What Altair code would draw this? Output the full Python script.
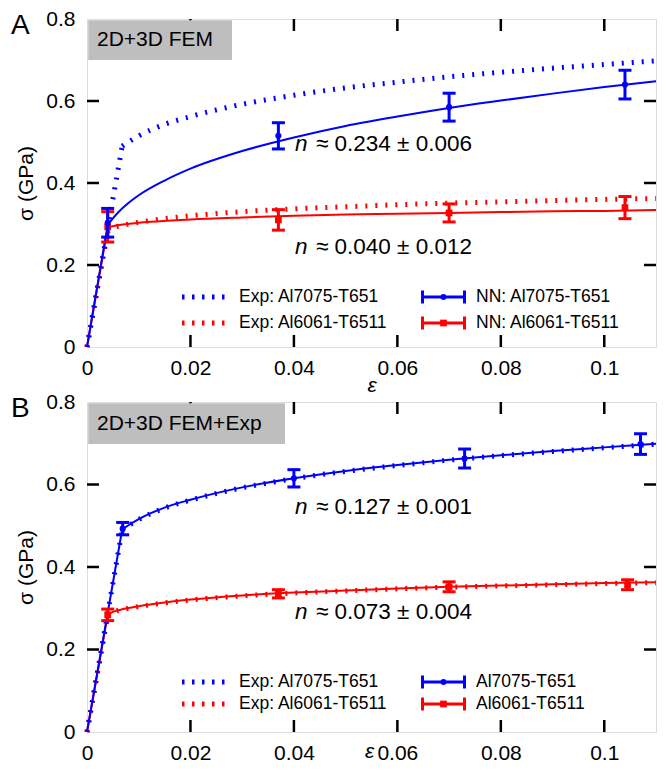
import altair as alt
import pandas as pd

FONT = "Liberation Sans"
BLUE = "#0000ff"
RED = "#ff0000"
GRAY = "#bebebe"

W = 569
H_A = 328
H_B = 330

# ---------------- data ----------------
# experimental curves (same in both panels)
exp7075_eps = [0, 0.0068, 0.0075, 0.01, 0.015, 0.02, 0.03, 0.04, 0.05, 0.06, 0.07, 0.08, 0.09, 0.1, 0.11]
exp7075_sig = [0, 0.490, 0.496, 0.515, 0.543, 0.562, 0.592, 0.614, 0.632, 0.646, 0.659, 0.670, 0.680, 0.689, 0.698]
exp6061_eps = [0, 0.004, 0.005, 0.007, 0.01, 0.015, 0.02, 0.03, 0.04, 0.05, 0.06, 0.07, 0.08, 0.09, 0.1, 0.11]
exp6061_sig = [0, 0.282, 0.290, 0.297, 0.304, 0.313, 0.320, 0.330, 0.337, 0.342, 0.347, 0.351, 0.354, 0.357, 0.360, 0.362]

# panel A: NN (2D+3D FEM)
a_nn7075_eps = [0, 0.004, 0.006, 0.008, 0.01, 0.015, 0.02, 0.03, 0.04, 0.05, 0.06, 0.07, 0.08, 0.09, 0.1, 0.11]
a_nn7075_sig = [0, 0.298, 0.328, 0.351, 0.370, 0.406, 0.435, 0.478, 0.511, 0.539, 0.562, 0.583, 0.601, 0.618, 0.634, 0.648]
a_nn6061_eps = [0, 0.004, 0.006, 0.01, 0.02, 0.03, 0.04, 0.05, 0.06, 0.07, 0.08, 0.09, 0.1, 0.11]
a_nn6061_sig = [0, 0.292, 0.297, 0.303, 0.311, 0.316, 0.320, 0.323, 0.325, 0.327, 0.329, 0.331, 0.332, 0.334]
a_pt7075_eps = [0.004, 0.037, 0.070, 0.104]
a_pt7075_sig = [0.303, 0.515, 0.585, 0.640]
a_pt7075_err = [0.035, 0.032, 0.034, 0.035]
a_pt6061_eps = [0.004, 0.037, 0.070, 0.104]
a_pt6061_sig = [0.293, 0.310, 0.327, 0.340]
a_pt6061_err = [0.037, 0.025, 0.022, 0.027]

# panel B: NN (2D+3D FEM+Exp)
b_nn7075_eps = [0, 0.0068, 0.0075, 0.01, 0.015, 0.02, 0.03, 0.04, 0.05, 0.06, 0.07, 0.08, 0.09, 0.1, 0.11]
b_nn7075_sig = [0, 0.491, 0.497, 0.516, 0.544, 0.563, 0.593, 0.615, 0.633, 0.647, 0.660, 0.671, 0.681, 0.690, 0.699]
b_nn6061_eps = [0, 0.004, 0.005, 0.007, 0.01, 0.015, 0.02, 0.03, 0.04, 0.05, 0.06, 0.07, 0.08, 0.09, 0.1, 0.11]
b_nn6061_sig = [0, 0.284, 0.291, 0.298, 0.305, 0.314, 0.321, 0.331, 0.338, 0.343, 0.348, 0.352, 0.355, 0.358, 0.361, 0.363]
b_pt7075_eps = [0.0069, 0.040, 0.073, 0.107]
b_pt7075_sig = [0.493, 0.615, 0.663, 0.698]
b_pt7075_err = [0.015, 0.021, 0.023, 0.025]
b_pt6061_eps = [0.004, 0.037, 0.070, 0.1045]
b_pt6061_sig = [0.284, 0.335, 0.352, 0.357]
b_pt6061_err = [0.014, 0.010, 0.012, 0.012]

# annotations
a_ann_eps = [0.0402, 0.0402]
a_ann_sig = [0.495, 0.244]
a_ann_txt = ["≈ 0.234 ± 0.006", "≈ 0.040 ± 0.012"]
b_ann_eps = [0.0402, 0.0402]
b_ann_sig = [0.545, 0.291]
b_ann_txt = ["≈ 0.127 ± 0.001", "≈ 0.073 ± 0.004"]

# axes ticks / labels
x_label_vals = [0, 0.02, 0.04, 0.06, 0.08, 0.1]
y_label_vals = [0, 0.2, 0.4, 0.6, 0.8]
x_tick_vals = [0.02, 0.04, 0.06, 0.08, 0.1]
y_tick_vals = [0.2, 0.4, 0.6]

a_leg_exp = ["Exp: Al7075-T651", "Exp: Al6061-T6511"]
a_leg_nn = ["NN: Al7075-T651", "NN: Al6061-T6511"]
b_leg_exp = ["Exp: Al7075-T651", "Exp: Al6061-T6511"]
b_leg_nn = ["Al7075-T651", "Al6061-T6511"]

LBL = 21


def one():
    return alt.Data(values=[{"k": 0}])


def xenc(ty=44, tx=W / 2):
    return alt.X(
        "eps:Q",
        scale=alt.Scale(domain=[0, 0.11], nice=False, zero=False),
        axis=alt.Axis(
            values=x_label_vals, labelExpr="format(datum.value, '.2~f')",
            ticks=False, tickSize=0, domain=False, grid=False,
            labelFont=FONT, labelFontSize=LBL, labelColor="black", labelPadding=10,
            labelFlush=False,
            title="ε", titleFont=FONT, titleFontSize=21, titleFontStyle="italic",
            titleFontWeight="normal", titleColor="black", titleY=ty, titleX=tx,
            titleBaseline="alphabetic", titleAlign="center",
        ),
    )


def yenc(field, H):
    return alt.Y(
        f"{field}:Q",
        scale=alt.Scale(domain=[0, 0.8], nice=False, zero=False),
        axis=alt.Axis(
            values=y_label_vals, labelExpr="format(datum.value, '.1~f')",
            ticks=False, tickSize=0, domain=False, grid=False,
            labelFont=FONT, labelFontSize=LBL, labelColor="black", labelPadding=12,
            labelFlush=False,
            title="σ (GPa)", titleFont=FONT, titleFontSize=21, titleFontWeight="normal",
            titleColor="black", titleX=-51, titleY=H / 2, titleAngle=270,
            titleBaseline="bottom", titleAlign="center",
        ),
    )


def panel(tag, box_text, box_w, box_h, H, ty, tx, nn7075, nn6061, p7075, p6061, ann, rows,
          leg_exp, leg_nn):
    X = lambda: xenc(ty, tx)

    def curve(eps, sig, color, dotted):
        df = pd.DataFrame({"eps": eps, "sig": sig, "i": list(range(len(eps)))})
        if dotted:
            mk = dict(color=color, strokeWidth=5, strokeDash=[2, 8], strokeCap="butt")
        else:
            mk = dict(color=color, strokeWidth=2)
        el = alt.Chart(df).transform_filter("datum.i <= 1").mark_line(
            interpolate="linear", **mk).encode(x=X(), y=yenc("sig", H))
        pl = alt.Chart(df).transform_filter("datum.i >= 1").mark_line(
            interpolate="monotone", **mk).encode(x=X(), y=yenc("sig", H))
        return [el, pl]

    def points(eps, sig, err, color, shape, size):
        df = pd.DataFrame({
            "eps": eps, "sig": sig,
            "lo": [s - e for s, e in zip(sig, err)],
            "hi": [s + e for s, e in zip(sig, err)],
        })
        bar = alt.Chart(df).mark_rule(color=color, strokeWidth=3).encode(
            x=X(), y=yenc("lo", H), y2="hi:Q")
        c1 = alt.Chart(df).mark_tick(color=color, orient="horizontal", size=13,
                                     thickness=3, opacity=1).encode(x=X(), y=yenc("lo", H))
        c2 = alt.Chart(df).mark_tick(color=color, orient="horizontal", size=13,
                                     thickness=3, opacity=1).encode(x=X(), y=yenc("hi", H))
        pt = alt.Chart(df).mark_point(shape=shape, filled=True, size=size, color=color,
                                      opacity=1).encode(x=X(), y=yenc("sig", H))
        return [bar, c1, c2, pt]

    def annotations(eps, sig, txt):
        df = pd.DataFrame({"eps": eps, "sig": sig, "t": txt})
        n = alt.Chart(df).mark_text(text="n", font=FONT, fontSize=22.5, fontStyle="italic",
                                    align="left", baseline="middle", color="black").encode(
            x=X(), y=yenc("sig", H))
        rest = alt.Chart(df).mark_text(font=FONT, fontSize=22.5, align="left",
                                       baseline="middle", color="black", dx=21).encode(
            x=X(), y=yenc("sig", H), text="t:N")
        return [n, rest]

    def frame_ticks():
        tdx = pd.DataFrame({"eps": x_tick_vals})
        tdy = pd.DataFrame({"sig": y_tick_vals})
        mk = dict(color="black", strokeWidth=2.5)
        return [
            alt.Chart(tdx).mark_rule(**mk).encode(x=X(), y=alt.value(H), y2=alt.value(H - 12)),
            alt.Chart(tdx).mark_rule(**mk).encode(x=X(), y=alt.value(0), y2=alt.value(12)),
            alt.Chart(tdy).mark_rule(**mk).encode(y=yenc("sig", H), x=alt.value(0), x2=alt.value(12)),
            alt.Chart(tdy).mark_rule(**mk).encode(y=yenc("sig", H), x=alt.value(W), x2=alt.value(W - 12)),
        ]

    def ptext(s, x, y, size, **kw):
        return alt.Chart(one()).mark_text(text=s, font=FONT, fontSize=size, color="black",
                                          align="left", **kw).encode(
            x=alt.value(x), y=alt.value(y))

    def legend():
        out = []
        for y, color, lab in zip(rows, [BLUE, RED], leg_exp):
            out.append(alt.Chart(one()).mark_rule(color=color, strokeWidth=5,
                                                  strokeDash=[2.5, 7.5], strokeCap="butt").encode(
                x=alt.value(95), x2=alt.value(140), y=alt.value(y)))
            out.append(ptext(lab, 152, y, 17.5, baseline="middle"))
        for y, color, shape, size, lab in zip(rows, [BLUE, RED], ["circle", "square"],
                                              [35, 45], leg_nn):
            out.append(alt.Chart(one()).mark_rule(color=color, strokeWidth=3).encode(
                x=alt.value(334), x2=alt.value(379), y=alt.value(y)))
            for cx in (335.5, 377.5):
                out.append(alt.Chart(one()).mark_rule(color=color, strokeWidth=3).encode(
                    x=alt.value(cx), y=alt.value(y - 6.5), y2=alt.value(y + 6.5)))
            out.append(alt.Chart(one()).mark_point(shape=shape, filled=True, size=size,
                                                   color=color, opacity=1).encode(
                x=alt.value(356.5), y=alt.value(y)))
            out.append(ptext(lab, 389, y, 17.5, baseline="middle"))
        return out

    layers = []
    layers += frame_ticks()
    layers += curve(exp6061_eps, exp6061_sig, RED, True)
    layers += curve(exp7075_eps, exp7075_sig, BLUE, True)
    layers += curve(nn6061[0], nn6061[1], RED, False)
    layers += curve(nn7075[0], nn7075[1], BLUE, False)
    layers += points(p6061[0], p6061[1], p6061[2], RED, "square", 45)
    layers += points(p7075[0], p7075[1], p7075[2], BLUE, "circle", 38)
    layers.append(alt.Chart(one()).mark_rect(color=GRAY).encode(
        x=alt.value(1.25), x2=alt.value(box_w), y=alt.value(1.25), y2=alt.value(box_h)))
    layers.append(ptext(box_text, 10, box_h / 2 + 0.5, 21, baseline="middle"))
    layers += annotations(ann[0], ann[1], ann[2])
    layers += legend()
    layers.append(ptext(tag, -76, 15, 28, baseline="alphabetic"))
    return alt.layer(*layers).properties(width=W, height=H)


pA = panel("A", "2D+3D FEM", 145, 41, H_A, 44, W / 2,
           (a_nn7075_eps, a_nn7075_sig), (a_nn6061_eps, a_nn6061_sig),
           (a_pt7075_eps, a_pt7075_sig, a_pt7075_err), (a_pt6061_eps, a_pt6061_sig, a_pt6061_err),
           (a_ann_eps, a_ann_sig, a_ann_txt), [278, 304], a_leg_exp, a_leg_nn)
pB = panel("B", "2D+3D FEM+Exp", 198, 42, H_B, 25, 282,
           (b_nn7075_eps, b_nn7075_sig), (b_nn6061_eps, b_nn6061_sig),
           (b_pt7075_eps, b_pt7075_sig, b_pt7075_err), (b_pt6061_eps, b_pt6061_sig, b_pt6061_err),
           (b_ann_eps, b_ann_sig, b_ann_txt), [280, 302], b_leg_exp, b_leg_nn)

chart = alt.vconcat(pA, pB, spacing=55, bounds="flush").properties(
    padding={"left": 2, "top": -1, "right": -9, "bottom": -3}
).configure_view(stroke="black", strokeWidth=2.5).configure(font=FONT)

chart.save("out.html", embed_options={"renderer": "svg", "actions": False})
